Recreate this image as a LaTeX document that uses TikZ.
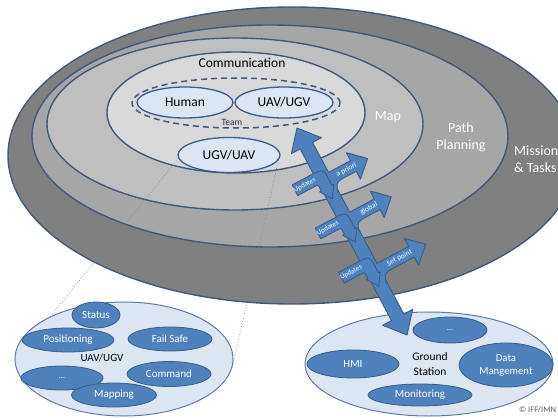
\documentclass[tikz,border=0pt]{standalone}
\usepackage{fontspec}
\setmainfont{Carlito}
\usetikzlibrary{shapes.geometric}
\definecolor{ringline}{HTML}{3F5A7D}
\definecolor{mission}{HTML}{808080}
\definecolor{pathpl}{HTML}{A6A6A6}
\definecolor{mapc}{HTML}{BFBFBF}
\definecolor{commc}{HTML}{D9D9D9}
\definecolor{paleblue}{HTML}{DCE6F2}
\definecolor{midblue}{HTML}{4F81BD}
\definecolor{darkblue}{HTML}{385D8A}
\definecolor{dotline}{HTML}{6A88B0}
\definecolor{copyc}{HTML}{595959}
\tikzset{
  ring/.style={ellipse, draw=ringline, line width=1.4pt, inner sep=0pt},
  paleell/.style={ellipse, draw=darkblue, fill=paleblue, line width=1.3pt, inner sep=0pt, font=\fontsize{13.5}{15}\selectfont},
  blueell/.style={ellipse, draw=darkblue, fill=midblue, line width=0.8pt, inner sep=0pt, text=white, font=\fontsize{11}{12}\selectfont, align=center},
  ringlabel/.style={text=white, font=\fontsize{14}{17}\selectfont, inner sep=0pt},
  arrowbody/.style={fill=midblue, draw=darkblue, line width=0.9pt, line join=round},
  arrowtext/.style={text=white, font=\fontsize{7}{8}\selectfont, inner sep=0pt},
  zoomline/.style={draw=dotline, line width=0.7pt, dotted},
}
\begin{document}
\begin{tikzpicture}[x=1pt,y=-1pt]
\useasboundingbox (0,0) rectangle (558,418);
\begin{scope}
\clip (0,0) rectangle (558,418);
% rings
\node[ring, fill=mission, minimum width=569pt, minimum height=297pt] (mission) at (292.5,155.5) {};
\node[ring, fill=pathpl, minimum width=476pt, minimum height=222pt] (pathring) at (270,136) {};
\node[ring, fill=mapc, minimum width=376pt, minimum height=172pt] (mapring) at (235,124) {};
\node[ring, fill=commc, minimum width=258pt, minimum height=121pt] (commring) at (236,112.5) {};
% ring labels
\node[ringlabel] (maplbl) at (388,117) {Map};
\node[ringlabel, align=center] (pathlbl) at (461,137) {Path\\Planning};
\node[ringlabel, align=left, anchor=west] (mislbl) at (514,159) {Mission\\\& Tasks};
\node[inner sep=0pt, font=\fontsize{13.5}{15}\selectfont] (commlbl) at (242,63) {Communication};
% team
\node[ellipse, draw=ringline, line width=1.5pt, dash pattern=on 6pt off 4pt, minimum width=208pt, minimum height=50pt, inner sep=0pt] (team) at (236,103) {};
\node[paleell, minimum width=96pt, minimum height=31pt] (human) at (185,102.5) {Human};
\node[paleell, minimum width=98pt, minimum height=31pt] (uavugv) at (284,102.5) {UAV/UGV};
\node[inner sep=0pt, font=\fontsize{9.5}{10}\selectfont, text=black!80] (teamlbl) at (232,122) {Team};
\node[paleell, minimum width=102pt, minimum height=35pt] (ugvuav) at (229,155) {UGV/UAV};
% bottom-left vehicle detail
\node[ellipse, draw=darkblue!80, fill=paleblue, line width=1pt, minimum width=218pt, minimum height=114pt, inner sep=0pt] (vehicle) at (124,359) {};
\draw[zoomline] (ugvuav.184) -- (vehicle.150);
\draw[zoomline] (ugvuav.-6) -- (vehicle.-4);
\node[blueell, minimum width=48pt, minimum height=26pt] (status) at (96,315) {Status};
\node[blueell, minimum width=92pt, minimum height=24pt] (positioning) at (68,340) {Positioning};
\node[blueell, minimum width=84pt, minimum height=24pt] (failsafe) at (170,339) {Fail Safe};
\node[blueell, minimum width=82pt, minimum height=24pt, font=\fontsize{8}{9}\selectfont] (vdots) at (62,378) {...};
\node[blueell, minimum width=84pt, minimum height=25pt] (command) at (169,374) {Command};
\node[blueell, minimum width=85pt, minimum height=24pt] (mapping) at (114,395) {Mapping};
\node[inner sep=0pt, font=\fontsize{11}{12}\selectfont] (vehlbl) at (102,358) {UAV/UGV};
% ground station
\node[ellipse, draw=darkblue!80, fill=paleblue, line width=1pt, minimum width=248pt, minimum height=104pt, inner sep=0pt] (ground) at (429,364) {};
\node[blueell, minimum width=74pt, minimum height=26pt, font=\fontsize{8}{9}\selectfont] (gdots) at (450,330) {...};
\node[blueell, minimum width=92pt, minimum height=28pt] (hmi) at (353,364) {HMI};
\node[blueell, minimum width=94pt, minimum height=44pt, font=\fontsize{10.7}{13}\selectfont] (datam) at (506,365) {Data\\Mangement};
\node[blueell, minimum width=104pt, minimum height=22pt] (monitoring) at (420,395) {Monitoring};
\node[inner sep=0pt, align=center, font=\fontsize{11.5}{15}\selectfont] (gslbl) at (430,364) {Ground\\Station};
\node[inner sep=0pt, anchor=west, text=copyc, font=\fontsize{8.5}{9}\selectfont] (copy) at (519,410) {© IFF/IMN};
% main double arrow with branches
\coordinate (topTip) at (297,128);
\begin{scope}[shift={(topTip)}, rotate=-62]
  \path[arrowbody] (0,0) -- (20,17) -- (20,7) -- (214.4,7) -- (214.4,17) -- (234.4,0)
     -- (214.4,-17) -- (214.4,-7) -- (20,-7) -- (20,-17) -- cycle;
  \foreach \sb/\len/\lab in {60/48/a priori, 105/51/global, 163/59/Set point} {
    \begin{scope}[shift={(\sb,0)}, rotate=90]
      \fill[midblue] (3,-6) -- (\len-16,-6) -- (\len-16,-15) -- (\len,0) -- (\len-16,15) -- (\len-16,6)
        -- (18,6) .. controls (9,6.5) .. (6,16) -- (3,16) -- cycle;
      \draw[darkblue, line width=0.9pt, line join=round] (6.8,-6) -- (\len-16,-6) -- (\len-16,-15) -- (\len,0)
        -- (\len-16,15) -- (\len-16,6) -- (18,6) .. controls (9,6.5) .. (6,16);
      \node[arrowtext, rotate=28, font=\fontsize{7.5}{9}\selectfont] (lab\sb) at (0.5*\len,0) {\lab};
    \end{scope}
  }
  \foreach \s in {54,103,153} {
    \path[arrowbody] (\s-6,31) -- (\s-6,10) .. controls (\s-6,-4) .. (\s+8,-4) -- (\s+13,-4) -- (\s+13,-6)
      -- (\s+25,2) -- (\s+13,10) -- (\s+13,8) -- (\s+10,8) .. controls (\s+6,8) .. (\s+6,12) -- (\s+6,31) -- cycle;
    \node[arrowtext, rotate=28] (upd\s) at (\s,20) {Updates};
  }
\end{scope}
\end{scope}
\end{tikzpicture}
\end{document}
